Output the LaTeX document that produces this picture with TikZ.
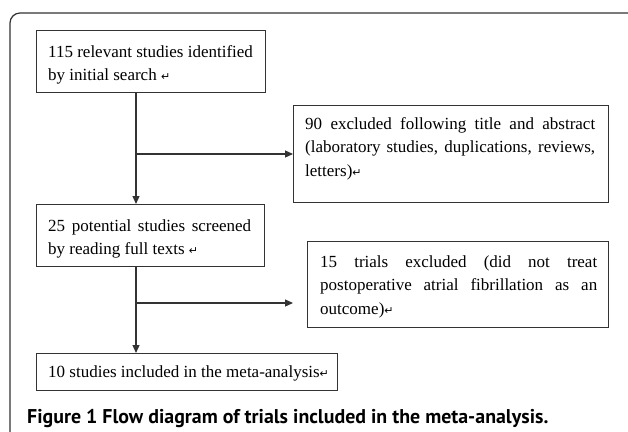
\documentclass[tikz,border=0pt]{standalone}
\usepackage{fontspec}
\setmainfont{Liberation Serif}
\newfontfamily\capfont{PT Sans}
\newfontfamily\symfont{DejaVu Sans}
\usetikzlibrary{arrows.meta}
\newcommand{\retsym}{{\symfont\fontsize{11}{11}\selectfont ↵}}
\definecolor{linegray}{HTML}{333333}
\tikzset{
  box/.style={draw=linegray, line width=1pt, rectangle, inner sep=0pt, anchor=north west},
  txt/.style={anchor=north west, inner sep=0pt, align=left, font=\fontsize{17}{23.5}\selectfont},
  flow/.style={draw=linegray, line width=1.2pt, -{Triangle[length=8pt,width=7pt]}},
  plainline/.style={draw=linegray, line width=1.2pt},
  frame/.style={draw=linegray, line width=1.2pt, rounded corners=10pt}
}
\begin{document}
\begin{tikzpicture}[x=1pt,y=-1pt]
\useasboundingbox (0,0) rectangle (628,431);
\begin{scope}
\clip (0,0) rectangle (628,431);
\draw[frame] (10,13) rectangle (645,450);
\end{scope}
% boxes
\node[box, minimum width=229pt, minimum height=62pt] (b1) at (36,30) {};
\node[box, minimum width=315pt, minimum height=97pt] (b90) at (293,105) {};
\node[box, minimum width=228pt, minimum height=62pt] (b2) at (36,204) {};
\node[box, minimum width=301pt, minimum height=86pt] (b15) at (307,241) {};
\node[box, minimum width=301pt, minimum height=37pt] (b10) at (36,353) {};
% texts
\node[txt] (t1) at (48,40.5) {\strut 115 relevant studies identified\\by initial search \retsym};
\node[txt] (t90) at (305,112.5) {\strut\makebox[290pt][s]{90 excluded following title and abstract}\\\makebox[290pt][s]{(laboratory studies, duplications, reviews,}\\letters)\retsym};
\node[txt] (t2) at (48,214.5) {\strut\makebox[203pt][s]{25 potential studies screened}\\by reading full texts \retsym};
\node[txt] (t15) at (320,250.5) {\strut\makebox[277pt][s]{15 trials excluded (did not treat}\\\makebox[277pt][s]{postoperative atrial fibrillation as an}\\outcome)\retsym};
\node[txt] (t10) at (48,360.5) {\strut 10 studies included in the meta-analysis\retsym};
% connectors
\coordinate (j1) at (136,154);
\coordinate (j2) at (136,303);
\coordinate (e2) at (293,303);
\draw[flow] (b1.south -| j1) -- (b2.north -| j1);
\draw[flow] (j1) -- (b90.west |- j1);
\draw[flow] (b2.south -| j2) -- (b10.north -| j2);
\draw[flow] (j2) -- (e2);
% caption
\node[anchor=base west, inner sep=0pt, font=\capfont\bfseries\fontsize{19.9}{22}\selectfont] (cap) at (27,423) {Figure 1 Flow diagram of trials included in the meta-analysis.};
\end{tikzpicture}
\end{document}
